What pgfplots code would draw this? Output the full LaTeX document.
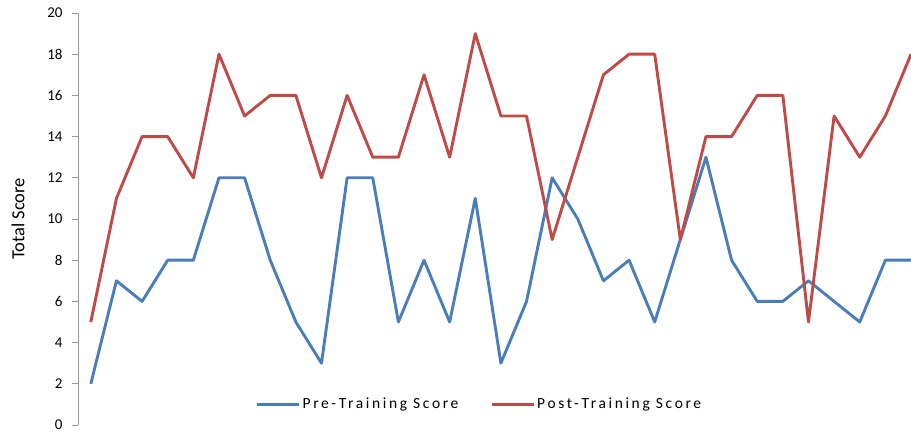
\documentclass[border=0pt]{standalone}
\usepackage{fontspec}
\setmainfont{Carlito}
\newfontfamily\legfont[LetterSpace=17]{Carlito}
\usepackage{pgfplots}
\pgfplotsset{compat=1.18}

\definecolor{preblue}{HTML}{4A7EBB}
\definecolor{postred}{HTML}{BE4B48}

\begin{document}
\begin{tikzpicture}
\begin{axis}[
    name=ax,
    width=833pt, height=412pt,
    scale only axis,
    xmin=-0.5, xmax=32,
    ymin=0, ymax=20,
    axis x line=none,
    axis y line*=left,
    axis line style={gray!80, line width=0.8pt, -},
    ytick={0,2,...,20},
    tick align=outside,
    major tick length=6pt,
    ytick style={gray!80, line width=0.8pt},
    yticklabel style={font=\fontsize{15}{15}\selectfont, xshift=-6pt},
    /pgf/number format/assume math mode=true,
    ylabel={Total Score},
    ylabel style={at={(axis description cs:-0.072,0.5)}, anchor=center, font=\fontsize{18.5}{18.5}\selectfont},
    legend columns=2,
    legend style={draw=none, fill=none, at={(axis description cs:0.482,0.05)}, anchor=center,
        font=\legfont\fontsize{15.5}{15.5}\selectfont, /tikz/every even column/.append style={column sep=30pt}},
    legend image code/.code={\draw[#1, line width=2.8pt] (0pt,0pt) -- (42pt,0pt);},
    clip=true,
]
\addplot[preblue, line width=2.9pt, line join=round] coordinates {
    (0,2) (1,7) (2,6) (3,8) (4,8) (5,12) (6,12) (7,8) (8,5) (9,3)
    (10,12) (11,12) (12,5) (13,8) (14,5) (15,11) (16,3) (17,6) (18,12) (19,10)
    (20,7) (21,8) (22,5) (23,9) (24,13) (25,8) (26,6) (27,6) (28,7) (29,6)
    (30,5) (31,8) (32,8)
};
\addlegendentry{Pre-Training Score}
\addplot[postred, line width=2.9pt, line join=round] coordinates {
    (0,5) (1,11) (2,14) (3,14) (4,12) (5,18) (6,15) (7,16) (8,16) (9,12)
    (10,16) (11,13) (12,13) (13,17) (14,13) (15,19) (16,15) (17,15) (18,9) (19,13)
    (20,17) (21,18) (22,18) (23,9) (24,14) (25,14) (26,16) (27,16) (28,5) (29,15)
    (30,13) (31,15) (32,18)
};
\addlegendentry{Post-Training Score}
\end{axis}
\pgfresetboundingbox
\path[use as bounding box] ([shift={(-78pt,-8pt)}]ax.south west) rectangle ([shift={(0pt,13pt)}]ax.north east);
\end{tikzpicture}
\end{document}
